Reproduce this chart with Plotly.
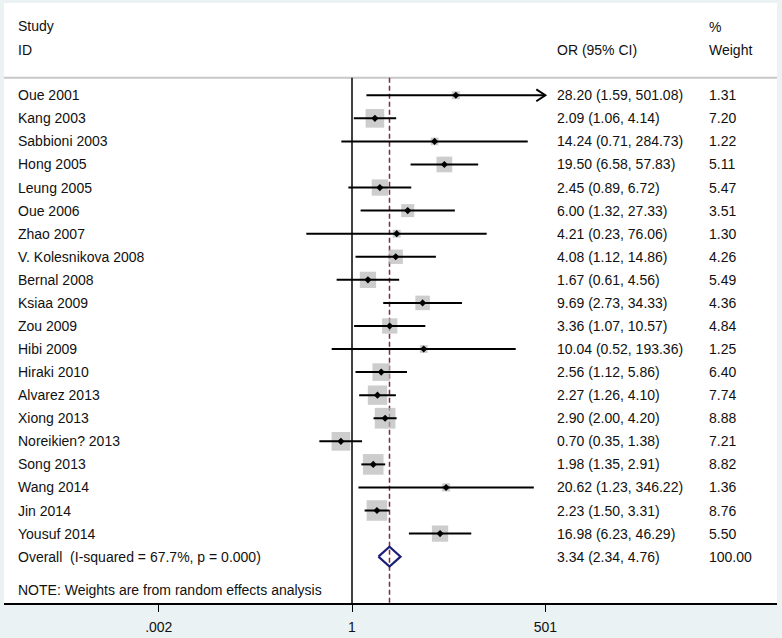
import math
import plotly.graph_objects as go

# ---------------- data ----------------
studies = ["Oue 2001", "Kang 2003", "Sabbioni 2003", "Hong 2005", "Leung 2005",
           "Oue 2006", "Zhao 2007", "V. Kolesnikova 2008", "Bernal 2008", "Ksiaa 2009",
           "Zou 2009", "Hibi 2009", "Hiraki 2010", "Alvarez 2013", "Xiong 2013",
           "Noreikien? 2013", "Song 2013", "Wang 2014", "Jin 2014", "Yousuf 2014"]
odds_ratio = [28.20, 2.09, 14.24, 19.50, 2.45, 6.00, 4.21, 4.08, 1.67, 9.69,
              3.36, 10.04, 2.56, 2.27, 2.90, 0.70, 1.98, 20.62, 2.23, 16.98]
ci_low = [1.59, 1.06, 0.71, 6.58, 0.89, 1.32, 0.23, 1.12, 0.61, 2.73,
          1.07, 0.52, 1.12, 1.26, 2.00, 0.35, 1.35, 1.23, 1.50, 6.23]
ci_high = [501.08, 4.14, 284.73, 57.83, 6.72, 27.33, 76.06, 14.86, 4.56, 34.33,
           10.57, 193.36, 5.86, 4.10, 4.20, 1.38, 2.91, 346.22, 3.31, 46.29]
weights = [1.31, 7.20, 1.22, 5.11, 5.47, 3.51, 1.30, 4.26, 5.49, 4.36,
           4.84, 1.25, 6.40, 7.74, 8.88, 7.21, 8.82, 1.36, 8.76, 5.50]
overall_label = "Overall\u00a0 (I-squared = 67.7%, p = 0.000)"
overall_or = 3.34
overall_low = 2.34
overall_high = 4.76
overall_weight = 100.00
tick_values = [0.002, 1, 501]
tick_labels = [".002", "1", "501"]
note_text = "NOTE: Weights are from random effects analysis"

# ---------------- layout constants ----------------
W, H = 782, 638
PL, PR, PT, PB = 4, 777, 3, 609          # plot area pixel box
PX_PER_DEC = 71.6
X_ONE_PX = 352
ROW0_PX, ROW_STEP = 96.2, 23.3

def xfrac(px):
    return (px - PL) / (PR - PL)

def prow(px):
    return (px - ROW0_PX) / ROW_STEP

x_range = [(PL - X_ONE_PX) / PX_PER_DEC, (PR - X_ONE_PX) / PX_PER_DEC]
y_range = [prow(PB), prow(PT)]
xmax = max(tick_values)
xmin = min(tick_values)

FONT = "Liberation Sans, Arial, sans-serif"
FS = 14
TXT = "#111111"
BOX = "#b8b8b8"
NAVY = "#1c1f78"
MAROON = "#7f2a3a"

n = len(studies)
rows = list(range(n))
overall_row = n

fig = go.Figure()

# weight boxes (area proportional to weight)
fig.add_trace(go.Scatter(
    x=odds_ratio, y=rows, mode="markers",
    marker=dict(symbol="square", size=[6.95 * math.sqrt(w) for w in weights],
                color=BOX, line=dict(width=0)),
    hoverinfo="skip", showlegend=False))

# CI lines, clipped to the axis range, with an arrow when clipped
cx, cy = [], []
ax, ay = [], []
for i in rows:
    lo = max(ci_low[i], xmin)
    hi = min(ci_high[i], xmax)
    cx += [lo, hi, None]
    cy += [i, i, None]
    if ci_high[i] > xmax:
        back = 10 ** (math.log10(xmax) - 9 / PX_PER_DEC)
        dy = 6 / ROW_STEP
        ax += [back, xmax, back, None]
        ay += [i - dy, i, i + dy, None]
fig.add_trace(go.Scatter(x=cx, y=cy, mode="lines", line=dict(color="black", width=2),
                         hoverinfo="skip", showlegend=False))
if ax:
    fig.add_trace(go.Scatter(x=ax, y=ay, mode="lines", line=dict(color="black", width=2),
                             hoverinfo="skip", showlegend=False))

# point estimates
fig.add_trace(go.Scatter(
    x=odds_ratio, y=rows, mode="markers",
    marker=dict(symbol="diamond", size=5.5, color="black"),
    hoverinfo="skip", showlegend=False))

# overall diamond
dh = 10 / ROW_STEP
fig.add_trace(go.Scatter(
    x=[overall_low, overall_or, overall_high, overall_or, overall_low],
    y=[overall_row, overall_row - dh, overall_row, overall_row + dh, overall_row],
    mode="lines", line=dict(color=NAVY, width=2.2),
    hoverinfo="skip", showlegend=False))

shapes = []
header_line_row = prow(78.5)
shapes.append(dict(type="line", xref="paper", yref="y", x0=0, x1=1,
                   y0=header_line_row, y1=header_line_row,
                   line=dict(color="#c8c8c8", width=2), layer="below"))
shapes.append(dict(type="line", xref="x", yref="y", x0=1, x1=1,
                   y0=header_line_row, y1=y_range[0],
                   line=dict(color="black", width=1.5), layer="below"))
shapes.append(dict(type="line", xref="x", yref="y", x0=overall_or, x1=overall_or,
                   y0=header_line_row, y1=y_range[0],
                   line=dict(color=MAROON, width=1.5, dash="5px,3px"), layer="below"))

ann = []
def txt(xpx, row, s):
    ann.append(dict(xref="paper", yref="y", x=xfrac(xpx), y=row, text=s,
                    showarrow=False, xanchor="left", yanchor="middle",
                    font=dict(family=FONT, size=FS, color=TXT)))

txt(16, prow(26.5), "Study")
txt(16, prow(50), "ID")
txt(555, prow(50), "OR (95% CI)")
txt(707, prow(27), "%")
txt(707, prow(50), "Weight")

for i in rows:
    txt(16, i, studies[i])
    txt(555, i, f"{odds_ratio[i]:.2f} ({ci_low[i]:.2f}, {ci_high[i]:.2f})")
    txt(707, i, f"{weights[i]:.2f}")

txt(16, overall_row, overall_label)
txt(555, overall_row, f"{overall_or:.2f} ({overall_low:.2f}, {overall_high:.2f})")
txt(707, overall_row, f"{overall_weight:.2f}")
txt(16, prow(596), note_text)

fig.update_layout(
    width=W, height=H,
    margin=dict(l=PL, r=W - PR, t=PT, b=H - PB, pad=0),
    paper_bgcolor="#eaf2f3",
    plot_bgcolor="white",
    shapes=shapes, annotations=ann,
    xaxis=dict(type="log", range=x_range, tickvals=tick_values, ticktext=tick_labels,
               ticks="outside", ticklen=7, tickwidth=1.3, tickcolor="black",
               ticklabelstandoff=3,
               showline=True, linecolor="black", linewidth=1.5, mirror=False,
               showgrid=False, zeroline=False,
               tickfont=dict(family=FONT, size=FS, color=TXT)),
    yaxis=dict(range=y_range, showgrid=False, zeroline=False, showticklabels=False,
               showline=False, ticks=""),
)

fig.write_html("out.html", config={"displayModeBar": False},
               post_script="document.body.style.margin='0';document.body.style.overflow='hidden';")
